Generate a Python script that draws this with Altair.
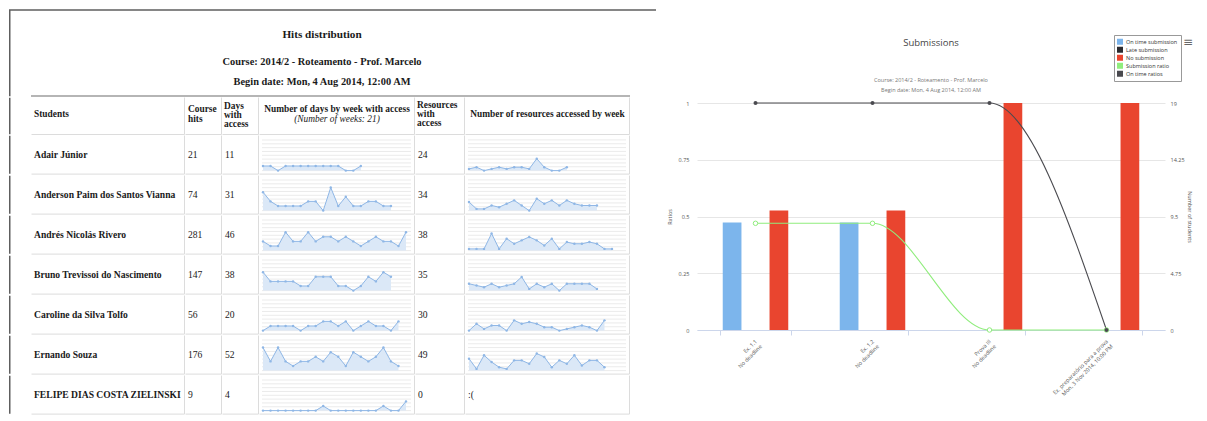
import altair as alt
import pandas as pd

# ---------------- data: left table ----------------
table_title = "Hits distribution"
table_course = "Course: 2014/2 - Roteamento - Prof. Marcelo"
table_begin = "Begin date: Mon, 4 Aug 2014, 12:00 AM"

header_students = "Students"
header_hits = "Course\nhits"
header_days = "Days\nwith\naccess"
header_days_week = "Number of days by week with access"
header_days_week_note = "(Number of weeks: 21)"
header_resources = "Resources\nwith\naccess"
header_resources_week = "Number of resources accessed by week"

students = [
    "Adair Júnior",
    "Anderson Paim dos Santos Vianna",
    "Andrés Nicolás Rivero",
    "Bruno Trevissoi do Nascimento",
    "Caroline da Silva Tolfo",
    "Ernando Souza",
    "FELIPE DIAS COSTA ZIELINSKI",
]
course_hits = [21, 74, 281, 147, 56, 176, 9]
days_with_access = [11, 31, 46, 38, 20, 52, 4]
resources_with_access = [24, 34, 38, 35, 30, 49, 0]

days_by_week = [
    [1, 1, 0, 1, 1, 1, 1, 1, 1, 1, 1, 0, 0, 1],
    [4, 2, 1, 1, 1, 1, 2, 2, 0, 5, 1, 3, 1, 1, 2, 2, 1, 1],
    [2, 1, 1, 4, 2, 2, 4, 2, 3, 3, 2, 3, 2, 1, 2, 3, 2, 2, 1, 4],
    [4, 2, 2, 2, 2, 1, 1, 3, 3, 3, 1, 1, 0, 1, 3, 2, 4, 3],
    [0, 1, 1, 1, 1, 0, 1, 1, 2, 2, 1, 2, 0, 1, 2, 1, 1, 0, 2],
    [5, 2, 5, 2, 1, 2, 2, 3, 2, 4, 3, 1, 4, 3, 2, 3, 5, 2, 1],
    [0, 0, 0, 0, 0, 0, 0, 0, 1, 0, 0, 0, 0, 0, 0, 0, 1, 0, 0, 2],
]
resources_by_week = [
    [1, 2, 0, 1, 2, 1, 2, 2, 1, 7, 2, 0, 0, 2],
    [5, 1, 1, 3, 2, 4, 6, 3, 0, 7, 4, 6, 3, 6, 4, 3, 3, 3],
    [1, 1, 1, 10, 1, 7, 4, 6, 8, 6, 3, 7, 1, 5, 4, 4, 5, 4, 1, 1],
    [4, 3, 2, 4, 2, 3, 4, 8, 1, 4, 2, 4, 0, 4, 4, 4, 4, 1],
    [0, 4, 1, 3, 3, 0, 6, 4, 5, 4, 2, 2, 0, 1, 2, 3, 2, 0, 6],
    [7, 1, 9, 5, 2, 1, 6, 6, 4, 10, 8, 2, 6, 4, 9, 3, 6, 6, 2],
    [],
]
no_resources_text = ":("

# ---------------- data: submissions chart ----------------
chart_title = "Submissions"
chart_subtitle = "Course: 2014/2 - Roteamento - Prof. Marcelo\nBegin date: Mon, 4 Aug 2014, 12:00 AM"
assignment_names = ["Ex. 1.1", "Ex. 1.2", "Prova III", "Ex. preparatório para a prova"]
assignment_deadlines = ["No deadline", "No deadline", "No deadline", "Mon, 3 Nov 2014, 10:00 PM"]
on_time_submissions = [9, 9, 0, 0]
late_submissions = [0, 0, 0, 0]
no_submissions = [10, 10, 19, 19]
submission_ratio = [0.47, 0.47, 0, 0]
on_time_ratio = [1, 1, 1, 0]
ratio_ticks = [0, 0.25, 0.5, 0.75, 1]
student_ticks = [0, 4.75, 9.5, 14.25, 19]
series_names = ["On time submission", "Late submission", "No submission",
                "Submission ratio", "On time ratios"]
series_colors = ["#7cb5ec", "#2b2b30", "#e9452f", "#90ed7d", "#4a4a4f"]

# ---------------- layout / style ----------------
FONT_SERIF = "Liberation Serif"
FONT_SANS = "Open Sans"
GRID = "#dcdcdc"
FRAME = "#5e5e5e"
LEFT_PAD = 22
COL_W = [154, 37, 37, 156, 50, 165]
TITLE_H = 89
HEAD_H = 38
ROW_H = 39.6
PANEL_W = 647
TABLE_W = sum(COL_W)
TS = 9.6   # body text size
HS = 9.4   # header text size

one = pd.DataFrame({"k": [0]})


def frame_spacer(h):
    return alt.Chart(one).mark_rule(color=FRAME, strokeWidth=1.5).encode(
        x=alt.value(0.75), y=alt.value(0.75), y2=alt.value(h - 0.75)
    ).properties(width=LEFT_PAD, height=h)


def text_layer(text, h, bold=False, size=TS, align="left", italic=False, x=3, y=None, lh=None):
    df = pd.DataFrame({"t": [text]})
    return alt.Chart(df).mark_text(
        align=align, baseline="middle", font=FONT_SERIF, fontSize=size,
        fontWeight="bold" if bold else "normal",
        fontStyle="italic" if italic else "normal",
        lineBreak="\n", lineHeight=lh if lh else size + 1.5, color="#1a1a1a",
    ).encode(text="t:N", x=alt.value(x), y=alt.value(h / 2 if y is None else y))


def cell(layers, w, h):
    if not isinstance(layers, list):
        layers = [layers]
    right = alt.Chart(one).mark_rule(color=GRID, strokeWidth=1).encode(
        x=alt.value(w - 0.5), y=alt.value(0.5), y2=alt.value(h - 0.5))
    bottom = alt.Chart(one).mark_rule(color=GRID, strokeWidth=1).encode(
        x=alt.value(0.5), x2=alt.value(w - 0.5), y=alt.value(h - 0.5))
    return alt.layer(*layers, right, bottom).properties(width=w, height=h)


def spark_cell(values, w, h, ymax, grid_step):
    if len(values) == 0:
        return cell(text_layer(no_resources_text, h, y=20), w, h)
    df = pd.DataFrame({"week": list(range(len(values))), "v": values})
    grid_df = pd.DataFrame({"g": [i * grid_step for i in range(int(ymax / grid_step) + 1)]})
    yscale = alt.Scale(domain=[0, ymax], range=[h - 4, 1.5], nice=False)
    x = alt.X("week:Q", scale=alt.Scale(domain=[0, 19], range=[4, 147], nice=False, zero=False), axis=None)
    y = alt.Y("v:Q", scale=yscale, axis=None)
    grid = alt.Chart(grid_df).mark_rule(color="#e6e6e6", strokeWidth=0.8).encode(
        y=alt.Y("g:Q", scale=yscale, axis=None), x=alt.value(3), x2=alt.value(w - 4))
    base = alt.Chart(df).encode(x=x, y=y)
    area = base.mark_area(color="#dbe8f7", opacity=1)
    line = base.mark_line(color="#8fb7e6", strokeWidth=1)
    pts = base.mark_circle(color="#8fb7e6", size=6, opacity=1)
    return cell([grid, area, line, pts], w, h)


# ---------------- left panel ----------------
title_chart = alt.layer(
    alt.Chart(one).mark_rule(color=FRAME, strokeWidth=1.5).encode(
        x=alt.value(0), x2=alt.value(PANEL_W), y=alt.value(2)),
    alt.Chart(one).mark_rule(color=FRAME, strokeWidth=1.5).encode(
        x=alt.value(0.75), y=alt.value(2), y2=alt.value(TITLE_H - 0.75)),
    alt.Chart(one).mark_rule(color="#b5b5b5", strokeWidth=2).encode(
        x=alt.value(LEFT_PAD), x2=alt.value(LEFT_PAD + TABLE_W), y=alt.value(TITLE_H - 1)),
    text_layer(table_title, TITLE_H, bold=True, size=11.2, align="center", x=313, y=27),
    text_layer(table_course, TITLE_H, bold=True, size=10.4, align="center", x=313, y=54),
    text_layer(table_begin, TITLE_H, bold=True, size=10.4, align="center", x=313, y=74),
).properties(width=PANEL_W, height=TITLE_H)

header_row = alt.hconcat(
    frame_spacer(HEAD_H),
    cell(text_layer(header_students, HEAD_H, bold=True, size=HS, y=17), COL_W[0], HEAD_H),
    cell(text_layer(header_hits, HEAD_H, bold=True, size=HS, lh=9.5, x=3, y=12), COL_W[1], HEAD_H),
    cell(text_layer(header_days, HEAD_H, bold=True, size=HS, lh=9.2, x=2, y=9), COL_W[2], HEAD_H),
    cell([
        text_layer(header_days_week, HEAD_H, bold=True, size=HS, align="center", x=COL_W[3] / 2, y=12),
        text_layer(header_days_week_note, HEAD_H, italic=True, size=HS, align="center", x=COL_W[3] / 2, y=22),
    ], COL_W[3], HEAD_H),
    cell(text_layer(header_resources, HEAD_H, bold=True, size=HS, lh=9.2, x=2, y=8), COL_W[4], HEAD_H),
    cell(text_layer(header_resources_week, HEAD_H, bold=True, size=HS, align="center", x=COL_W[5] / 2, y=17),
         COL_W[5], HEAD_H),
    spacing=0, bounds="flush",
)


def student_row(i):
    h = ROW_H
    ty = 20
    return alt.hconcat(
        frame_spacer(h),
        cell(text_layer(students[i], h, bold=True, y=ty), COL_W[0], h),
        cell(text_layer(str(course_hits[i]), h, x=3, y=ty), COL_W[1], h),
        cell(text_layer(str(days_with_access[i]), h, x=3, y=ty), COL_W[2], h),
        spark_cell(days_by_week[i], COL_W[3], h, 7.4, 0.83),
        cell(text_layer(str(resources_with_access[i]), h, x=3, y=ty), COL_W[4], h),
        spark_cell(resources_by_week[i], COL_W[5], h, 20, 2.25),
        spacing=0, bounds="flush",
    )


left_panel = alt.vconcat(
    title_chart, header_row, *[student_row(i) for i in range(len(students))],
    spacing=0,
)

# ---------------- right panel: submissions ----------------
categories = [f"{n}\n{d}" for n, d in zip(assignment_names, assignment_deadlines)]
bar_rows = []
line_rows = []
for c, a, b, n, sr, otr in zip(categories, on_time_submissions, late_submissions, no_submissions,
                                submission_ratio, on_time_ratio):
    bar_rows += [
        {"cat": c, "series": series_names[0], "count": a},
        {"cat": c, "series": series_names[1], "count": b},
        {"cat": c, "series": series_names[2], "count": n},
    ]
    line_rows += [
        {"cat": c, "series": series_names[3], "ratio": sr},
        {"cat": c, "series": series_names[4], "ratio": otr},
    ]
bars_df = pd.DataFrame(bar_rows)
lines_df = pd.DataFrame(line_rows)

RW = 468
RH = 404
Y_RANGE = [322, 95]
AX_COLOR = "#555555"

x_enc = alt.X(
    "cat:N", sort=categories,
    scale=alt.Scale(paddingInner=0.4, paddingOuter=0.2),
    axis=alt.Axis(title=None, labelAngle=315, labelAlign="right", labelBaseline="middle",
                  labelExpr="split(datum.label, '\\n')", labelFontSize=5.5, labelColor=AX_COLOR,
                  labelFont=FONT_SANS, labelPadding=5, labelOverlap=False, labelLineHeight=7,
                  domainColor="#ccd6eb", tickColor="#ccd6eb", tickSize=5, tickBand="extent",
                  offset=-(RH - Y_RANGE[0]), grid=False),
)

legend = alt.Legend(
    title=None, orient="none", legendX=1105, legendY=27, symbolType="square",
    labelFontSize=5.5, labelFont=FONT_SANS, labelColor="#333", symbolSize=20,
    rowPadding=0, padding=3, strokeColor="#999999", fillColor="white", labelOffset=3,
    clipHeight=7.5,
)
color_enc = alt.Color("series:N", scale=alt.Scale(domain=series_names, range=series_colors), legend=legend)

bars = alt.Chart(bars_df).mark_bar().encode(
    x=x_enc,
    xOffset=alt.XOffset("series:N", sort=series_names[:3],
                        scale=alt.Scale(domain=series_names[:3], paddingInner=0.2, paddingOuter=0.1)),
    y=alt.Y("count:Q", scale=alt.Scale(domain=[0, 19], range=Y_RANGE, nice=False),
            axis=alt.Axis(orient="right", values=student_ticks, title="Number of students",
                          labelExpr="toString(datum.value)", grid=False, domain=False, ticks=False,
                          labelFontSize=5.5, labelColor=AX_COLOR, labelFont=FONT_SANS, labelPadding=5,
                          titleFontSize=5.5, titleColor=AX_COLOR, titleFont=FONT_SANS,
                          titleFontWeight="normal", titlePadding=2)),
    color=color_enc,
)

ratio_y = alt.Y("ratio:Q", scale=alt.Scale(domain=[0, 1], range=Y_RANGE, nice=False),
                axis=alt.Axis(orient="left", values=ratio_ticks, title="Ratios", grid=True,
                              gridColor="#e6e6e6", domain=False, ticks=False,
                              labelExpr="toString(datum.value)", labelFontSize=5.5,
                              labelColor=AX_COLOR, labelFont=FONT_SANS, labelPadding=8,
                              titleFontSize=5.5, titleColor=AX_COLOR, titleFont=FONT_SANS,
                              titleFontWeight="normal", titlePadding=6))

ratio_lines = alt.Chart(lines_df).mark_line(interpolate="monotone", strokeWidth=1.1).encode(
    x=x_enc, y=ratio_y, color=color_enc)
green_pts = alt.Chart(lines_df).transform_filter(alt.datum.series == series_names[3]).mark_point(
    filled=False, fill="white", size=20, strokeWidth=1, opacity=1).encode(x=x_enc, y=ratio_y, color=color_enc)
dark_pts = alt.Chart(lines_df).transform_filter(alt.datum.series == series_names[4]).mark_point(
    filled=True, size=16, opacity=1).encode(x=x_enc, y=ratio_y, color=color_enc)
ratio_layer = alt.layer(ratio_lines, green_pts, dark_pts)

title_txt = alt.Chart(one).mark_text(text=chart_title, font=FONT_SANS, fontSize=9.5, color="#444").encode(
    x=alt.value(RW / 2), y=alt.value(35))
subtitle_txt = alt.Chart(one).mark_text(text=chart_subtitle, lineBreak="\n", lineHeight=10,
                                        font=FONT_SANS, fontSize=5.5, color="#777").encode(
    x=alt.value(RW / 2), y=alt.value(72))
menu_txt = alt.Chart(one).mark_text(text="≡", font="DejaVu Sans", fontSize=12, color="#666").encode(
    x=alt.value(491), y=alt.value(34))

right_chart = alt.layer(bars, ratio_layer, title_txt, subtitle_txt, menu_txt).resolve_scale(
    y="independent").properties(width=RW, height=RH)

chart = alt.hconcat(left_panel, right_chart, spacing=10, padding=0).configure_view(
    stroke=None)

chart.save("out.html", embed_options={"renderer": "svg", "actions": False})
